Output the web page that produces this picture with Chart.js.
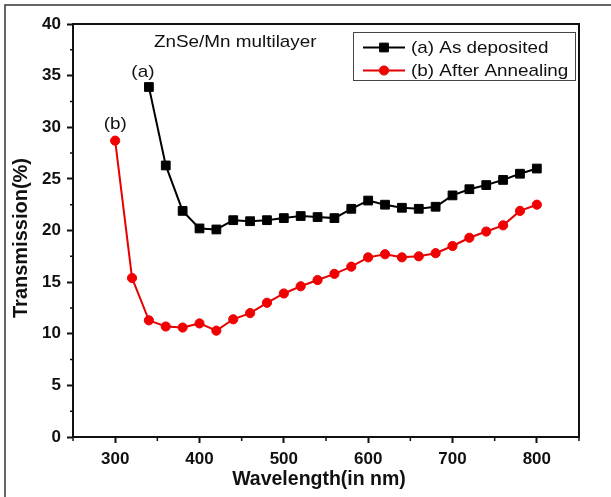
<!DOCTYPE html>
<html>
<head>
<meta charset="utf-8">
<script src="https://cdn.jsdelivr.net/npm/chart.js@4.4.1/dist/chart.umd.min.js"></script>
<style>
  html, body { margin: 0; padding: 0; background: #fff; }
  #wrap { width: 611px; height: 497px; position: relative; }
</style>
</head>
<body>
<div id="wrap"><canvas id="grafico"></canvas></div>
<script>
const wavelengthA = [340, 360, 380, 400, 420, 440, 460, 480, 500, 520, 540, 560, 580, 600, 620, 640, 660, 680, 700, 720, 740, 760, 780, 800];
const asDeposited = [33.9, 26.3, 21.9, 20.2, 20.1, 21.0, 20.9, 21.0, 21.2, 21.4, 21.3, 21.2, 22.1, 22.9, 22.5, 22.2, 22.1, 22.3, 23.4, 24.0, 24.4, 24.9, 25.5, 26.0];

const wavelengthB = [300, 320, 340, 360, 380, 400, 420, 440, 460, 480, 500, 520, 540, 560, 580, 600, 620, 640, 660, 680, 700, 720, 740, 760, 780, 800];
const afterAnnealing = [28.7, 15.4, 11.3, 10.7, 10.6, 11.0, 10.3, 11.4, 12.0, 13.0, 13.9, 14.6, 15.2, 15.8, 16.5, 17.4, 17.7, 17.4, 17.5, 17.8, 18.5, 19.3, 19.9, 20.5, 21.9, 22.5];

const seriesNames = ["(a) As deposited", "(b) After Annealing"];
const xTicks = [300, 400, 500, 600, 700, 800];
const yTicks = [0, 5, 10, 15, 20, 25, 30, 35, 40];

const FONT = 'Arial, "Liberation Sans", sans-serif';
const INK = "#111";

// texto algo estirado en horizontal, como en la figura original
function texto(ctx, str, x, y, align) {
  const ancho = ctx.measureText(str).width * 1.11;
  let x0 = x;
  if (align === "center") x0 = x - ancho / 2;
  ctx.save();
  ctx.translate(x0, y);
  ctx.scale(1.11, 1);
  ctx.textAlign = "left";
  ctx.fillText(str, 0, 0);
  ctx.restore();
}

const decoraciones = {
  id: "decoraciones",
  afterDraw(chart) {
    const ctx = chart.ctx;
    const area = chart.chartArea;
    const sx = chart.scales.x;
    const sy = chart.scales.y;
    ctx.save();

    // marco de la imagen (solo arriba e izquierda)
    ctx.strokeStyle = "#333";
    ctx.lineWidth = 1.5;
    ctx.beginPath();
    ctx.moveTo(5, 497);
    ctx.lineTo(5, 5);
    ctx.lineTo(611, 5);
    ctx.stroke();

    // caja del grafico: arriba y derecha
    ctx.strokeStyle = INK;
    ctx.lineWidth = 2;
    ctx.beginPath();
    ctx.moveTo(area.left, area.top);
    ctx.lineTo(area.right, area.top);
    ctx.lineTo(area.right, area.bottom);
    ctx.stroke();

    // ticks menores
    ctx.lineWidth = 1.5;
    ctx.beginPath();
    for (let v = 250; v <= 850; v += 100) {
      const px = sx.getPixelForValue(v);
      ctx.moveTo(px, area.bottom);
      ctx.lineTo(px, area.bottom + 4);
    }
    for (let v = 2.5; v < 40; v += 5) {
      const py = sy.getPixelForValue(v);
      ctx.moveTo(area.left - 3, py);
      ctx.lineTo(area.left, py);
    }
    ctx.stroke();

    // titulos de ejes
    ctx.fillStyle = INK;
    ctx.font = "bold 19.5px " + FONT;
    ctx.textAlign = "center";
    ctx.textBaseline = "middle";
    ctx.fillText("Wavelength(in nm)", 319, 480);
    ctx.save();
    ctx.translate(21, 238);
    ctx.rotate(-Math.PI / 2);
    ctx.font = "bold 20px " + FONT;
    ctx.fillText("Transmission(%)", 0, 0);
    ctx.restore();

    // textos dentro del grafico
    ctx.font = "17px " + FONT;
    texto(ctx, "ZnSe/Mn multilayer", 154, 42, "left");
    texto(ctx, "(a)", sx.getPixelForValue(wavelengthA[0]) - 6, sy.getPixelForValue(asDeposited[0]) - 15, "center");
    texto(ctx, "(b)", sx.getPixelForValue(wavelengthB[0]), sy.getPixelForValue(afterAnnealing[0]) - 16, "center");

    // leyenda
    ctx.strokeStyle = "#444";
    ctx.lineWidth = 1;
    ctx.strokeRect(353.5, 32.5, 222, 48);
    const filas = [47.5, 70.5];
    chart.data.datasets.forEach((ds, i) => {
      const y = filas[i];
      ctx.strokeStyle = ds.borderColor;
      ctx.lineWidth = 2;
      ctx.beginPath();
      ctx.moveTo(363, y);
      ctx.lineTo(405, y);
      ctx.stroke();
      ctx.fillStyle = ds.pointBackgroundColor;
      ctx.strokeStyle = ds.pointBorderColor;
      ctx.lineWidth = 1;
      Chart.helpers.drawPoint(ctx, { pointStyle: ds.pointStyle, radius: ds.pointRadius, borderWidth: 1 }, 384, y);
      ctx.fillStyle = INK;
      ctx.font = "17px " + FONT;
      texto(ctx, ds.label, 411, y + 1, "left");
    });

    ctx.restore();
  }
};

const ctx = document.getElementById("grafico").getContext("2d");
new Chart(ctx, {
  type: "line",
  data: {
    datasets: [
      {
        label: seriesNames[0],
        data: wavelengthA.map((x, i) => ({ x: x, y: asDeposited[i] })),
        borderColor: "#000",
        borderWidth: 2,
        pointStyle: "rect",
        pointRadius: 6.2,
        pointBackgroundColor: "#000",
        pointBorderColor: "#000",
        pointBorderWidth: 1,
        tension: 0
      },
      {
        label: seriesNames[1],
        data: wavelengthB.map((x, i) => ({ x: x, y: afterAnnealing[i] })),
        borderColor: "#e60000",
        borderWidth: 2,
        pointStyle: "circle",
        pointRadius: 4.6,
        pointBackgroundColor: "#f00000",
        pointBorderColor: "#f00000",
        pointBorderWidth: 1,
        tension: 0
      }
    ]
  },
  options: {
    responsive: true,
    maintainAspectRatio: false,
    animation: false,
    layout: { padding: { top: 24, right: 32, left: 0, bottom: 0 } },
    plugins: {
      legend: { display: false },
      tooltip: { enabled: false }
    },
    scales: {
      x: {
        type: "linear",
        min: 250,
        max: 850,
        afterFit: s => { s.height = 60; },
        afterBuildTicks: s => { s.ticks = xTicks.map(v => ({ value: v })); },
        ticks: {
          autoSkip: false,
          maxRotation: 0,
          padding: 6,
          color: INK,
          font: { family: FONT, size: 17, weight: "bold" }
        },
        grid: { drawOnChartArea: false, tickLength: 6, tickWidth: 2, tickColor: INK },
        border: { color: INK, width: 2 }
      },
      y: {
        min: 0,
        max: 40,
        afterFit: s => { s.width = 73; },
        afterBuildTicks: s => { s.ticks = yTicks.map(v => ({ value: v })); },
        ticks: {
          padding: 6,
          color: INK,
          font: { family: FONT, size: 17, weight: "bold" }
        },
        grid: { drawOnChartArea: false, tickLength: 6, tickWidth: 2, tickColor: INK },
        border: { color: INK, width: 2 }
      }
    }
  },
  plugins: [decoraciones]
});
</script>
</body>
</html>
